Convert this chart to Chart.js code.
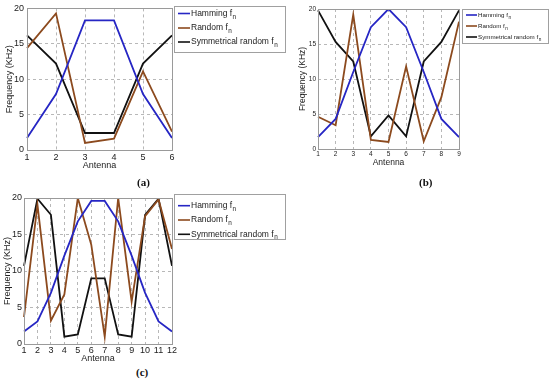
<!DOCTYPE html>
<html>
<head>
<meta charset="utf-8">
<script src="https://cdn.jsdelivr.net/npm/chart.js@4.4.1/dist/chart.umd.min.js"></script>
<style>
  body { margin: 0; background: #fff; }
  #wrap { position: relative; width: 550px; height: 385px; overflow: hidden; }
  canvas { position: absolute; }
  .tag { position: absolute; font: bold 11px "Liberation Serif", "DejaVu Serif", serif; color: #111; }
</style>
</head>
<body>
<div id="wrap">
  <canvas id="chartA" width="290" height="172" style="left:0;top:0"></canvas>
  <canvas id="chartB" width="260" height="172" style="left:290px;top:0"></canvas>
  <canvas id="chartC" width="290" height="185" style="left:0;top:180px"></canvas>
  <div class="tag" style="left:137px;top:176px">(a)</div>
  <div class="tag" style="left:419px;top:176px">(b)</div>
  <div class="tag" style="left:136px;top:366px">(c)</div>
</div>
<script>
// antenna numbers
const antA = ['1', '2', '3', '4', '5', '6'];
const antB = ['1', '2', '3', '4', '5', '6', '7', '8', '9'];
const antC = ['1', '2', '3', '4', '5', '6', '7', '8', '9', '10', '11', '12'];

// frequencies (KHz)
const hammA = [1.7, 7.9, 18.3, 18.3, 7.9, 1.7];
const randA = [14.4, 19.3, 1.0, 1.6, 11.1, 2.6];
const symA  = [16.2, 12.2, 2.4, 2.4, 12.2, 16.2];

const hammB = [1.7, 4.3, 11.0, 17.4, 20.0, 17.4, 11.0, 4.3, 1.7];
const randB = [4.6, 3.4, 19.2, 1.3, 1.0, 11.8, 1.1, 7.4, 18.2];
const symB  = [19.8, 15.3, 12.5, 1.8, 4.8, 1.8, 12.5, 15.3, 19.8];

const hammC = [1.7, 3.1, 7.0, 12.1, 16.8, 19.6, 19.6, 16.8, 12.1, 7.0, 3.1, 1.7];
const randC = [3.7, 19.1, 3.2, 6.8, 20.0, 13.6, 1.0, 20.0, 5.8, 17.5, 19.8, 13.0];
const symC  = [10.7, 19.9, 17.7, 1.0, 1.3, 9.0, 9.0, 1.3, 1.0, 17.7, 19.9, 10.7];

const seriesNames = ['Hamming fₙ', 'Random fₙ', 'Symmetrical random fₙ'];
const yTicks = [0, 5, 10, 15, 20];

const colors = ['#2626c4', '#8c4a1e', '#111111'];
const FONT = '"Liberation Sans", Arial, sans-serif';

// legend box drawn by hand so it can sit right next to the axes
const boxLegend = {
    id: 'boxLegend',
    afterDraw(chart, args, o) {
        const ctx = chart.ctx;
        ctx.save();
        ctx.fillStyle = '#fff';
        ctx.fillRect(o.x, o.y, o.w, o.h);
        ctx.strokeStyle = '#a0a0a0';
        ctx.lineWidth = 1;
        ctx.strokeRect(o.x + 0.5, o.y + 0.5, o.w, o.h);
        chart.data.datasets.forEach((ds, i) => {
            const y = o.rows[i];
            ctx.strokeStyle = ds.borderColor;
            ctx.lineWidth = 1.6;
            ctx.beginPath();
            ctx.moveTo(o.l0, y);
            ctx.lineTo(o.l1, y);
            ctx.stroke();
            ctx.fillStyle = '#222';
            ctx.textBaseline = 'middle';
            ctx.font = o.size + 'px ' + FONT;
            let txt = ds.label, sub = '';
            if (txt.endsWith('ₙ')) { txt = txt.slice(0, -1); sub = 'n'; }
            ctx.fillText(txt, o.tx, y);
            if (sub) {
                const w = ctx.measureText(txt).width;
                ctx.font = (o.size * 0.75) + 'px ' + FONT;
                ctx.fillText(sub, o.tx + w + 0.5, y + o.size * 0.4);
            }
        });
        ctx.restore();
    }
};

// axes box
const frame = {
    id: 'frame',
    afterDatasetsDraw(chart) {
        const { ctx, chartArea: a } = chart;
        ctx.save();
        ctx.strokeStyle = '#9a9a9a';
        ctx.lineWidth = 1;
        ctx.strokeRect(Math.round(a.left) + 0.5, Math.round(a.top) + 0.5,
            Math.round(a.right - a.left), Math.round(a.bottom - a.top));
        ctx.restore();
    }
};

function edgeless(c) {
    const n = c.scale.ticks.length;
    return (c.index === 0 || c.index === n - 1) ? 'rgba(0,0,0,0)' : '#b8b8b8';
}

function makeChart(id, labels, hamm, rand, sym, s) {
    const ctx = document.getElementById(id).getContext('2d');
    return new Chart(ctx, {
        type: 'line',
        data: {
            labels: labels,
            datasets: [hamm, rand, sym].map((d, i) => ({
                label: seriesNames[i],
                data: d,
                borderColor: colors[i],
                borderWidth: 1.8,
                pointRadius: 0,
                tension: 0,
                fill: false
            }))
        },
        options: {
            responsive: false,
            animation: false,
            devicePixelRatio: 1,
            layout: { padding: s.pad },
            plugins: {
                legend: { display: false },
                tooltip: { enabled: false },
                boxLegend: s.legend
            },
            scales: {
                x: {
                    offset: false,
                    afterFit: sc => { sc.height = s.xh; },
                    grid: { color: edgeless, drawTicks: false, lineWidth: 1 },
                    border: { display: false, dash: [3, 3] },
                    ticks: { color: '#222', padding: s.xtp, maxRotation: 0, autoSkip: false,
                        font: { family: FONT, size: s.tick } },
                    title: { display: true, text: 'Antenna', color: '#222',
                        padding: { top: 0, bottom: s.xtitle }, font: { family: FONT, size: s.title } }
                },
                y: {
                    min: 0, max: 20,
                    afterFit: sc => { sc.width = s.yw; },
                    afterBuildTicks: sc => { sc.ticks = yTicks.map(v => ({ value: v })); },
                    grid: { color: edgeless, drawTicks: false, lineWidth: 1 },
                    border: { display: false, dash: [3, 3] },
                    ticks: { color: '#222', padding: s.ytp, font: { family: FONT, size: s.tick } },
                    title: { display: true, text: 'Frequency (KHz)', color: '#222',
                        padding: { top: s.ytitle, bottom: 0 }, font: { family: FONT, size: s.title } }
                }
            }
        },
        plugins: [frame, boxLegend]
    });
}

makeChart('chartA', antA, hammA, randA, symA, {
    pad: { left: 0, top: 6, right: 118, bottom: 0 },
    xh: 22, yw: 27, tick: 9, title: 9, xtp: 2.5, ytp: 3, xtitle: 1.5, ytitle: 4,
    legend: { x: 174, y: 6, w: 111, h: 46, rows: [13.5, 28, 42], l0: 178, l1: 190, tx: 191, size: 8.5 }
});

makeChart('chartB', antB, hammB, randB, symB, {
    pad: { left: 0, top: 9, right: 91, bottom: 0 },
    xh: 23, yw: 28, tick: 6.5, title: 8.5, xtp: 1.5, ytp: 2, xtitle: 4, ytitle: 8,
    legend: { x: 172, y: 9, w: 86, h: 34, rows: [15, 26, 37], l0: 176, l1: 187, tx: 188, size: 6.2 }
});

makeChart('chartC', antC, hammC, randC, symC, {
    pad: { left: 0, top: 18, right: 118, bottom: 0 },
    xh: 21, yw: 24, tick: 9, title: 9, xtp: 1.5, ytp: 2, xtitle: 1.5, ytitle: 2,
    legend: { x: 174, y: 14, w: 111, h: 45, rows: [25.7, 40, 54.3], l0: 178, l1: 190, tx: 191, size: 8.5 }
});
</script>
</body>
</html>
